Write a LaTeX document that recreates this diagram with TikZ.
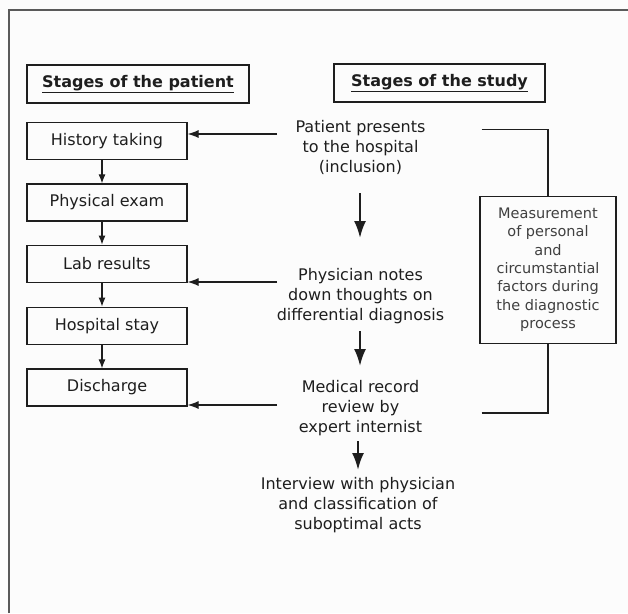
\documentclass[tikz,border=0pt]{standalone}
\usepackage{fontspec}
\setmainfont{DejaVu Sans}
\usetikzlibrary{arrows.meta}
\definecolor{ink}{HTML}{1E1E1E}
\definecolor{frame}{HTML}{5A5A5A}
\tikzset{
  pbox/.style={draw=ink, line width=1.2pt, minimum width=160pt, minimum height=37pt, inner sep=0pt, font=\fontsize{16}{20}\selectfont, text=ink},
  hbox/.style={draw=ink, line width=1.2pt, minimum height=38pt, inner sep=0pt, font=\fontsize{16}{20}\selectfont\bfseries, text=ink},
  stxt/.style={align=center, inner sep=0pt, anchor=north, font=\fontsize{16}{20}\selectfont, text=ink},
  mbox/.style={draw=ink, line width=1.2pt, minimum width=136pt, minimum height=147pt, inner sep=0pt, align=center, font=\fontsize{14.5}{18.4}\selectfont, text=ink!85},
  larr/.style={draw=ink, line width=1.1pt, -{Latex[length=11pt,width=8pt]}},
  varr/.style={draw=ink, line width=1.1pt, -{Latex[length=9pt,width=7pt]}},
  barr/.style={draw=ink, line width=2.2pt, -{Latex[length=17pt,width=12pt]}},
  brk/.style={draw=ink, line width=1.1pt},
}
\begin{document}
\begin{tikzpicture}[x=1pt,y=-1pt]
\useasboundingbox[fill=white!98!gray] (0,0) rectangle (628,613);
\draw[frame, line width=2pt] (9,613) -- (9,10) -- (628,10);

% headers
\node[hbox, minimum width=222pt] (hp) at (138,84) {\underline{Stages of the patient}};
\node[hbox, minimum width=211pt] (hs) at (439.5,83) {\underline{Stages of the study}};

% patient stages
\node[pbox] (hist) at (107,141) {History taking};
\node[pbox] (phys) at (107,202.5) {Physical exam};
\node[pbox] (lab) at (107,263.7) {Lab results};
\node[pbox] (hosp) at (107,325.7) {Hospital stay};
\node[pbox] (dis) at (107,387.5) {Discharge};
\foreach \a/\b in {hist/phys,phys/lab,lab/hosp,hosp/dis}
  \draw[varr] ([xshift=-5pt]\a.south) -- ([xshift=-5pt]\b.north);

% study stages
\node[stxt] (pp) at (360.5,120) {Patient presents\\to the hospital\\(inclusion)};
\node[stxt] (pn) at (360.5,268) {Physician notes\\down thoughts on\\differential diagnosis};
\node[stxt] (mr) at (360.5,380) {Medical record\\review by\\expert internist};
\node[stxt] (iv) at (358,477) {Interview with physician\\and classification of\\suboptimal acts};

\coordinate (s1) at (360,193); \coordinate (e1) at (360,238);
\coordinate (s2) at (360,331); \coordinate (e2) at (360,366);
\coordinate (s3) at (358,441); \coordinate (e3) at (358,470);
\draw[barr] (s1) -- (e1);
\draw[barr] (s2) -- (e2);
\draw[barr] (s3) -- (e3);

% arrows to patient stages
\coordinate (a1) at (277,134);
\coordinate (a2) at (277,282);
\coordinate (a3) at (277,405);
\draw[larr] (a1) -- (a1 -| hist.east);
\draw[larr] (a2) -- (a2 -| lab.east);
\draw[larr] (a3) -- (a3 -| dis.east);

% measurement box with bracket
\node[mbox] (ms) at (548,269.7) {Measurement\\of personal\\and\\circumstantial\\factors during\\the diagnostic\\process};
\coordinate (b1) at (481.5,129.5);
\coordinate (b2) at (481.5,413);
\draw[brk] (b1) -| (ms.north);
\draw[brk] (b2) -| (ms.south);
\end{tikzpicture}
\end{document}
